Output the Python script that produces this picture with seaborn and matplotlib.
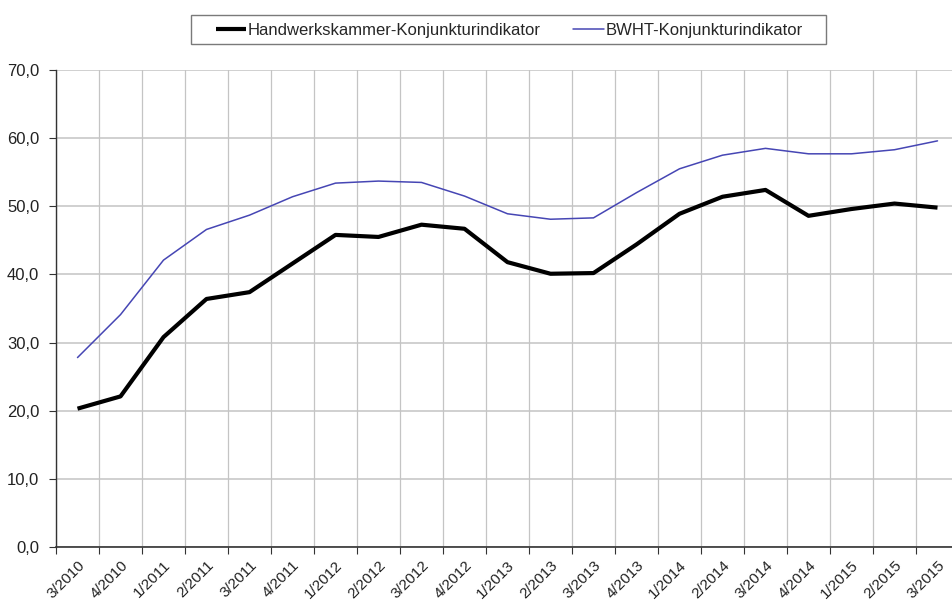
import matplotlib
matplotlib.use("Agg")
import matplotlib.pyplot as plt
import matplotlib.transforms as mtransforms
from matplotlib.patches import Rectangle
from matplotlib.ticker import FixedLocator, FuncFormatter
import seaborn as sns
import pandas as pd
import numpy as np

quarters = ["3/2010", "4/2010", "1/2011", "2/2011", "3/2011", "4/2011", "1/2012",
            "2/2012", "3/2012", "4/2012", "1/2013", "2/2013", "3/2013", "4/2013",
            "1/2014", "2/2014", "3/2014", "4/2014", "1/2015", "2/2015", "3/2015"]
hwk_values = [20.3, 22.1, 30.8, 36.4, 37.4, 41.6, 45.8, 45.5, 47.3, 46.7, 41.8,
              40.1, 40.2, 44.4, 48.9, 51.4, 52.4, 48.6, 49.6, 50.4, 49.8]
bwht_values = [27.8, 34.1, 42.1, 46.6, 48.7, 51.4, 53.4, 53.7, 53.5, 51.5, 48.9,
               48.1, 48.3, 52.0, 55.5, 57.5, 58.5, 57.7, 57.7, 58.3, 59.6]
series_names = ["Handwerkskammer-Konjunkturindikator", "BWHT-Konjunkturindikator"]
y_ticks = [0, 10, 20, 30, 40, 50, 60, 70]

sns.set_theme(style="white")
plt.rcParams['font.family'] = ['Liberation Sans', 'DejaVu Sans']

df = pd.DataFrame({
    "pos": list(range(len(quarters))) * 2,
    "value": hwk_values + bwht_values,
    "series": [series_names[0]] * len(quarters) + [series_names[1]] * len(quarters),
})

W, H = 952, 603
fig = plt.figure(figsize=(W / 100, H / 100), dpi=100)
ax = fig.add_axes([56 / W, 1 - 547 / H, 1 - 56 / W, (547 - 70) / H])

sns.lineplot(data=df[df.series == series_names[0]], x="pos", y="value", ax=ax,
             color="black", linewidth=3.0, label=series_names[0], solid_capstyle="butt")
sns.lineplot(data=df[df.series == series_names[1]], x="pos", y="value", ax=ax,
             color="#4646B4", linewidth=1.1, label=series_names[1])

n = len(quarters)
ax.set_xlim(-0.5, n - 0.5 - 7 / 43)
ax.set_ylim(0, 70)
ax.set_xlabel("")
ax.set_ylabel("")

ax.xaxis.set_major_locator(FixedLocator(np.arange(n)))
ax.set_xticklabels(quarters, rotation=45, ha="right", va="top", rotation_mode="anchor",
                   fontsize=11, color="#222222")
offset = mtransforms.ScaledTranslation(-3 / 100, 0, fig.dpi_scale_trans)
for lbl in ax.get_xticklabels():
    lbl.set_transform(lbl.get_transform() + offset)
ax.xaxis.set_minor_locator(FixedLocator(np.arange(n + 1) - 0.5))
ax.tick_params(axis="x", which="major", length=0, pad=8)
ax.tick_params(axis="x", which="minor", length=5, width=0.8, color="#333333", bottom=True)
ax.grid(False)
ax.grid(True, axis="x", which="minor", color="#c4c4c4", linewidth=0.9)

ax.set_yticks(y_ticks)
ax.yaxis.set_major_formatter(FuncFormatter(lambda v, p: f"{v:.1f}".replace(".", ",")))
ax.tick_params(axis="y", which="major", length=5, width=0.8, color="#333333", left=True,
               labelsize=12, labelcolor="#222222", pad=7)
ax.grid(True, axis="y", which="major", color="#c4c4c4", linewidth=1.1)

for side in ["top", "right"]:
    ax.spines[side].set_visible(False)
ax.spines["left"].set_color("#333333")
ax.spines["left"].set_linewidth(1.0)
ax.spines["bottom"].set_color("#333333")
ax.spines["bottom"].set_linewidth(1.2)

handles, labels = ax.get_legend_handles_labels()
ax.legend_.remove()
fig.legend(handles, labels, loc="center", bbox_to_anchor=(509 / W, 1 - 30 / H),
           ncol=2, frameon=False, fontsize=12, handlelength=1.85, handletextpad=0.1,
           columnspacing=1.9)
fig.add_artist(Rectangle((191 / W, 1 - 44 / H), 635 / W, 29 / H, transform=fig.transFigure,
                         fill=False, edgecolor="#7a7a7a", linewidth=1.0))

fig.savefig("out.png", dpi=100, facecolor="white")
